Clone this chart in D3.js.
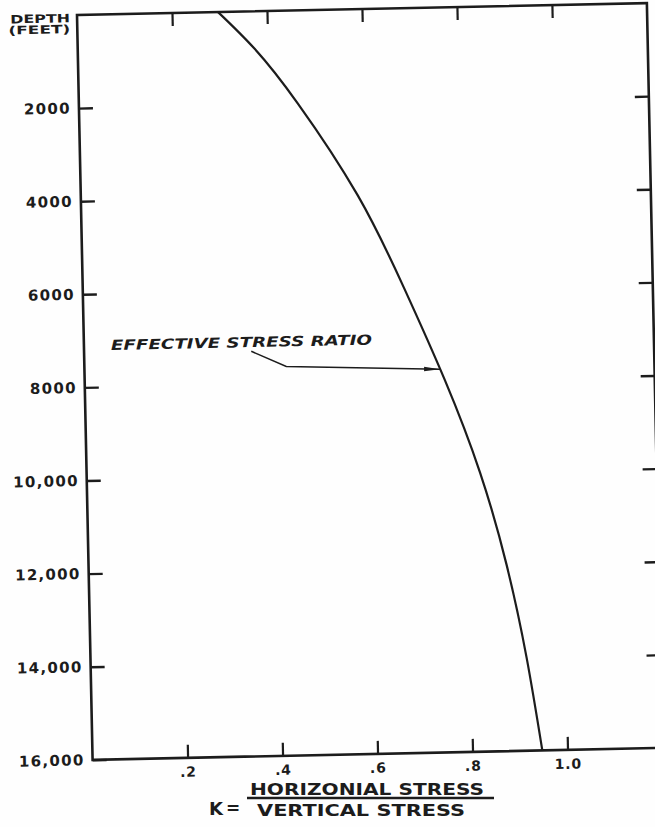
<!DOCTYPE html>
<html>
<head>
<meta charset="utf-8">
<script src="https://cdn.jsdelivr.net/npm/d3@7"></script>
<style>
  html, body { margin: 0; padding: 0; background: #ffffff; }
  svg { display: block; }
  text { font-family: "DejaVu Sans", "Liberation Sans", sans-serif; font-weight: bold; fill: #1c1c1c; }
</style>
</head>
<body>
<div id="chart"></div>
<script>
// ---- data ----
const depthFeet = [0, 800, 2000, 4000, 6000, 8000, 10000, 12000, 14000, 16000];
const kRatio    = [0.297, 0.372, 0.461, 0.583, 0.676, 0.758, 0.828, 0.880, 0.918, 0.947];

const yTickValues = [2000, 4000, 6000, 8000, 10000, 12000, 14000, 16000];
const yTickLabels = ["2000", "4000", "6000", "8000", "10,000", "12,000", "14,000", "16,000"];
const sideTickValues = [2000, 4000, 6000, 8000, 10000, 12000, 14000];
const xTickValues = [0.2, 0.4, 0.6, 0.8, 1.0];
const xTickLabels = [".2", ".4", ".6", ".8", "1.0"];

const annotationText = "EFFECTIVE STRESS RATIO";
const annotationTextPos = { k: 0.057, depth: 7210 };
const leaderStart = { k: 0.352, depth: 7300 };
const leaderBend  = { k: 0.425, depth: 7640 };
const leaderDepthAtCurve = 7770;

// ---- layout ----
const W = 655, H = 827;
const plotW = 570, plotH = 745;
const svg = d3.select("#chart").append("svg").attr("width", W).attr("height", H);
svg.append("rect").attr("width", W).attr("height", H).attr("fill", "#fefefe");

const x = d3.scaleLinear().domain([0, 1.2]).range([0, plotW]);
const y = d3.scaleLinear().domain([0, 16000]).range([0, plotH]);

// the scanned figure is slightly rotated
const g = svg.append("g").attr("transform", "translate(77,15) rotate(-1.2)");

const ink = "#1c1c1c";

// frame
g.append("rect")
  .attr("x", 0).attr("y", 0).attr("width", plotW).attr("height", plotH)
  .attr("fill", "none").attr("stroke", ink).attr("stroke-width", 2.6);

// left axis with labels
const leftAxis = d3.axisLeft(y).tickValues(yTickValues)
  .tickFormat((d, i) => yTickLabels[i]).tickSizeInner(-14).tickSizeOuter(0).tickPadding(8);
const gl = g.append("g").call(leftAxis);
gl.select(".domain").remove();
gl.selectAll("line").attr("stroke", ink).attr("stroke-width", 2.4);
gl.selectAll("text").attr("font-size", 15).attr("letter-spacing", 1.3)
  .attr("font-family", "'DejaVu Sans', sans-serif").attr("font-weight", "bold").attr("fill", ink);

// right axis ticks
const rightAxis = d3.axisRight(y).tickValues(sideTickValues).tickFormat("").tickSizeInner(-14).tickSizeOuter(0);
const gr = g.append("g").attr("transform", `translate(${plotW},0)`).call(rightAxis);
gr.select(".domain").remove();
gr.selectAll("line").attr("stroke", ink).attr("stroke-width", 2.4);

// bottom axis with labels
const bottomAxis = d3.axisBottom(x).tickValues(xTickValues)
  .tickFormat((d, i) => xTickLabels[i]).tickSizeInner(-13).tickSizeOuter(0).tickPadding(9);
const gb = g.append("g").attr("transform", `translate(0,${plotH})`).call(bottomAxis);
gb.select(".domain").remove();
gb.selectAll("line").attr("stroke", ink).attr("stroke-width", 2.2);
gb.selectAll("text").attr("font-size", 14).attr("letter-spacing", 0.8)
  .attr("font-family", "'DejaVu Sans', sans-serif").attr("font-weight", "bold").attr("fill", ink);

// top axis ticks
const topAxis = d3.axisTop(x).tickValues(xTickValues).tickFormat("").tickSizeInner(-13).tickSizeOuter(0);
const gt = g.append("g").call(topAxis);
gt.select(".domain").remove();
gt.selectAll("line").attr("stroke", ink).attr("stroke-width", 2.2);

// depth title
g.append("text").attr("x", -7).attr("y", 7).attr("text-anchor", "end")
  .attr("font-size", 11.5).attr("textLength", 60).attr("lengthAdjust", "spacingAndGlyphs").text("DEPTH");
g.append("text").attr("x", -7).attr("y", 18).attr("text-anchor", "end")
  .attr("font-size", 11.5).attr("textLength", 62).attr("lengthAdjust", "spacingAndGlyphs").text("(FEET)");

// curve
const pts = depthFeet.map((d, i) => [kRatio[i], d]);
const line = d3.line().x(d => x(d[0])).y(d => y(d[1])).curve(d3.curveNatural);
g.append("path").datum(pts).attr("d", line)
  .attr("fill", "none").attr("stroke", ink).attr("stroke-width", 2.2);

// annotation
const kAt = d3.scaleLinear().domain(depthFeet).range(kRatio);
const tipK = kAt(leaderDepthAtCurve);
g.append("text")
  .attr("x", x(annotationTextPos.k)).attr("y", y(annotationTextPos.depth))
  .attr("font-size", 14).attr("font-style", "italic")
  .attr("textLength", 261).attr("lengthAdjust", "spacingAndGlyphs")
  .text(annotationText);

const defs = svg.append("defs");
defs.append("marker").attr("id", "arrow").attr("viewBox", "0 0 16 6")
  .attr("refX", 16).attr("refY", 3).attr("markerWidth", 16).attr("markerHeight", 6)
  .attr("markerUnits", "userSpaceOnUse").attr("orient", "auto")
  .append("path").attr("d", "M0,0.8 L16,3 L0,5.2 Z").attr("fill", ink);

g.append("path")
  .datum([[leaderStart.k, leaderStart.depth], [leaderBend.k, leaderBend.depth], [tipK, leaderDepthAtCurve]])
  .attr("d", d3.line().x(d => x(d[0])).y(d => y(d[1])))
  .attr("fill", "none").attr("stroke", ink).attr("stroke-width", 1.6)
  .attr("marker-end", "url(#arrow)");

// x-axis title: K = HORIZONIAL STRESS / VERTICAL STRESS
const tg = svg.append("g");
tg.append("text").attr("x", 209).attr("y", 815).attr("font-size", 17)
  .attr("textLength", 14).attr("lengthAdjust", "spacingAndGlyphs").text("K");
tg.append("text").attr("x", 226).attr("y", 814).attr("font-size", 17).text("=");
tg.append("text").attr("x", 250).attr("y", 795).attr("font-size", 16)
  .attr("textLength", 234).attr("lengthAdjust", "spacingAndGlyphs").text("HORIZONIAL  STRESS");
tg.append("line").attr("x1", 247).attr("x2", 494).attr("y1", 798).attr("y2", 798)
  .attr("stroke", ink).attr("stroke-width", 2.4);
tg.append("text").attr("x", 257).attr("y", 816).attr("font-size", 16)
  .attr("textLength", 208).attr("lengthAdjust", "spacingAndGlyphs").text("VERTICAL  STRESS");
</script>
</body>
</html>
